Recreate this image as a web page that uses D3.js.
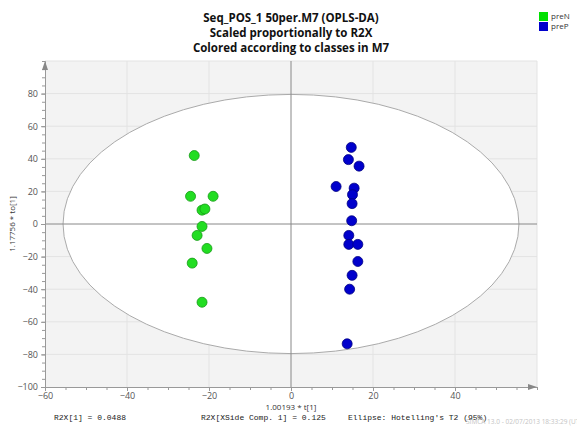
<!DOCTYPE html>
<html>
<head>
<meta charset="utf-8">
<script src="https://cdn.jsdelivr.net/npm/d3@7"></script>
<style>
  body { margin: 0; background: #fff; }
  svg { display: block; }
  .tick text { font-family: "Open Sans", sans-serif; font-size: 9px; fill: #555; }
  .axis path, .axis line { stroke: #999; }
</style>
</head>
<body>
<svg id="chart" width="577" height="432"></svg>
<script>
// data
const titleLines = ["Seq_POS_1 50per.M7 (OPLS-DA)", "Scaled proportionally to R2X", "Colored according to classes in M7"]
const classes = ["preN", "preP"]
const classColors = ["#22dd22", "#0000cc"]
const classStroke = ["#169a16", "#000080"]
const legendColors = ["#00e000", "#0000cc"]

const preN_t = [-23.6, -24.5, -19.0, -21.7, -21.0, -21.7, -22.9, -20.5, -24.1, -21.7]
const preN_to = [42, 17, 17, 8.5, 9.2, -1.5, -7, -15, -24, -48]
const preP_t = [14.7, 14.0, 16.6, 11.0, 15.4, 15.0, 14.9, 14.8, 14.1, 14.1, 16.3, 16.3, 14.9, 14.3, 13.7]
const preP_to = [47, 39.5, 35.5, 23, 22, 18, 12.5, 2, -7, -12.5, -12.5, -23, -31.5, -40, -73.5]

const xTicks = [-60, -40, -20, 0, 20, 40]
const yTicks = [-100, -80, -60, -40, -20, 0, 20, 40, 60, 80]
const ellipseRadius = [55.6, 79.5]   // Hotelling's T2 95%
const footerTexts = ["R2X[1] = 0.0488", "R2X[XSide Comp. 1] = 0.125", "Ellipse: Hotelling's T2 (95%)"]
const stampText = "SIMCA 13.0 - 02/07/2013 18:33:29 (UTC+2)"

let svg = d3.select("#chart")

let xScale = d3.scaleLinear().domain([-60, 60]).range([45, 537])
let yScale = d3.scaleLinear().domain([-100, 100]).range([387, 61])

// plot background
svg.append("rect")
    .attr("x", xScale(-60)).attr("y", yScale(100))
    .attr("width", xScale(60) - xScale(-60))
    .attr("height", yScale(-100) - yScale(100))
    .style("fill", "#f3f3f3")

// gridlines
svg.append("g").selectAll("line")
    .data(xTicks.concat([60]).filter(d => d != 0 && d != -60))
    .enter().append("line")
    .attr("x1", d => xScale(d)).attr("x2", d => xScale(d))
    .attr("y1", yScale(-100)).attr("y2", yScale(100))
    .style("stroke", "#e3e3e3")

svg.append("g").selectAll("line")
    .data(yTicks.concat([100]).filter(d => d != 0 && d != -100))
    .enter().append("line")
    .attr("x1", xScale(-60)).attr("x2", xScale(60))
    .attr("y1", d => yScale(d)).attr("y2", d => yScale(d))
    .style("stroke", "#e3e3e3")

// ellipse
svg.append("ellipse")
    .attr("cx", xScale(0)).attr("cy", yScale(0))
    .attr("rx", xScale(ellipseRadius[0]) - xScale(0))
    .attr("ry", yScale(0) - yScale(ellipseRadius[1]))
    .style("fill", "#fff")
    .style("stroke", "#aaa")
    .style("stroke-width", 1)

// zero lines
svg.append("line")
    .attr("x1", xScale(-60)).attr("x2", xScale(60))
    .attr("y1", yScale(0)).attr("y2", yScale(0))
    .style("stroke", "#888")
svg.append("line")
    .attr("x1", xScale(0)).attr("x2", xScale(0))
    .attr("y1", yScale(-100)).attr("y2", yScale(100))
    .style("stroke", "#888")

// axes with minor ticks
let minorX = d3.range(-60, 61, 5)
let minorY = d3.range(-100, 101, 5)

svg.append("g").attr("class", "axis")
    .attr("transform", `translate(0,${yScale(-100)})`)
    .call(d3.axisBottom(xScale).tickValues(minorX).tickSize(3).tickFormat("").tickSizeOuter(0))
svg.append("g").attr("class", "axis")
    .attr("transform", `translate(0,${yScale(-100)})`)
    .call(d3.axisBottom(xScale).tickValues(xTicks).tickSize(4).tickPadding(2).tickSizeOuter(0))

svg.append("g").attr("class", "axis")
    .attr("transform", `translate(${xScale(-60)},0)`)
    .call(d3.axisLeft(yScale).tickValues(minorY).tickSize(3).tickFormat("").tickSizeOuter(0))
svg.append("g").attr("class", "axis")
    .attr("transform", `translate(${xScale(-60)},0)`)
    .call(d3.axisLeft(yScale).tickValues(yTicks).tickSize(4).tickPadding(3).tickSizeOuter(0))

// arrow heads
svg.append("path")
    .attr("d", `M${xScale(60)},${yScale(-100)} l-9,-3 l0,6 z`)
    .style("fill", "#888")
svg.append("path")
    .attr("d", `M${xScale(-60)},${yScale(100)} l-3,9 l6,0 z`)
    .style("fill", "#888")

// axis labels
svg.append("text")
    .attr("x", xScale(0)).attr("y", 410)
    .style("text-anchor", "middle")
    .style("font-family", "Open Sans, sans-serif").style("font-size", "8px").style("fill", "#333")
    .text("1.00193 * t[1]")

svg.append("text")
    .attr("transform", `translate(15,${yScale(0)}) rotate(-90)`)
    .style("text-anchor", "middle")
    .style("font-family", "Open Sans, sans-serif").style("font-size", "8px").style("fill", "#333")
    .text("1.17756 * to[1]")

// points
let points = []
preN_t.forEach((t, i) => points.push({ t: t, to: preN_to[i], c: 0 }))
preP_t.forEach((t, i) => points.push({ t: t, to: preP_to[i], c: 1 }))

svg.append("g").selectAll("circle")
    .data(points)
    .enter().append("circle")
    .attr("cx", d => xScale(d.t))
    .attr("cy", d => yScale(d.to))
    .attr("r", 5)
    .style("fill", d => classColors[d.c])
    .style("stroke", d => classStroke[d.c])
    .style("stroke-width", 0.8)

// title
svg.append("g").selectAll("text")
    .data(titleLines)
    .enter().append("text")
    .attr("x", xScale(0)).attr("y", (d, i) => 22 + i * 15)
    .style("text-anchor", "middle")
    .style("font-family", "Open Sans, sans-serif").style("font-weight", "bold").style("font-size", "11.5px")
    .style("fill", "#111")
    .text(d => d)

// legend
let legend = svg.append("g")
legend.selectAll("rect")
    .data(classes).enter().append("rect")
    .attr("x", 539).attr("y", (d, i) => 12 + i * 10)
    .attr("width", 9).attr("height", 9)
    .style("fill", (d, i) => legendColors[i])
legend.selectAll("text")
    .data(classes).enter().append("text")
    .attr("x", 551).attr("y", (d, i) => 16.5 + i * 10)
    .attr("dy", "0.35em")
    .style("font-family", "Open Sans, sans-serif").style("font-size", "8px").style("fill", "#333")
    .text(d => d)

// footer
svg.append("g").selectAll("text")
    .data(footerTexts).enter().append("text")
    .attr("x", (d, i) => [54, 201, 348][i]).attr("y", 420)
    .style("font-family", "Liberation Mono, monospace").style("font-size", "8px").style("fill", "#222")
    .text(d => d)

svg.append("text")
    .attr("x", 466).attr("y", 424)
    .style("font-family", "Open Sans, sans-serif").style("font-size", "6.5px").style("fill", "#c4c4c4")
    .text(stampText)
</script>
</body>
</html>
